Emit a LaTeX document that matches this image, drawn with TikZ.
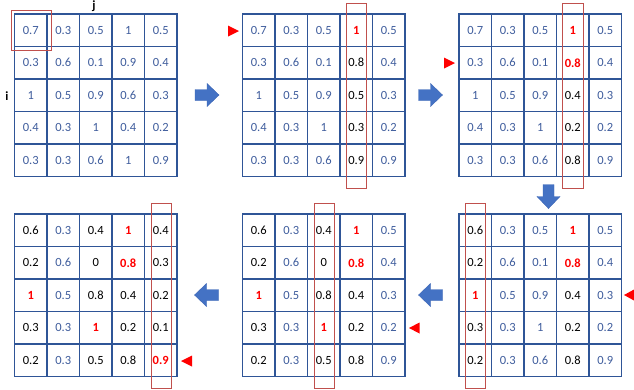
\documentclass[tikz,border=0pt]{standalone}
\usepackage{fontspec}
\setmainfont{Carlito}
\definecolor{gridblue}{HTML}{2F5597}
\definecolor{numblue}{HTML}{3E5C9C}
\definecolor{arrowblue}{HTML}{4472C4}
\definecolor{arrowedge}{HTML}{3A64B4}
\definecolor{boxred}{HTML}{C0504D}
\tikzset{
  cell/.style={draw=gridblue, line width=1.2pt, minimum size=32.5pt, inner sep=0pt, font=\fontsize{12.5}{14}\selectfont},
  cellb/.style={text=numblue},
  cellk/.style={text=black},
  cellr/.style={text=red, font=\fontsize{12.5}{14}\selectfont\bfseries},
  redbox/.style={draw=boxred, line width=0.8pt},
  pointer/.style={fill=red},
  blockarrow/.pic={\filldraw[fill=arrowblue, draw=arrowedge, line width=0.4pt]
     (-12,-5.5) -- (0,-5.5) -- (0,-11.5) -- (12,0) -- (0,11.5) -- (0,5.5) -- (-12,5.5) -- cycle;}
}
\newcommand\mkgrid[4]{%
  \foreach \row [count=\r from 0] in {#4} {%
    \foreach \s/\v [count=\c from 0] in \row {%
      \node[cell, cell\s] (#1-\r-\c) at ({#2+\c*32.5+16.25}, {#3+\r*32.5+16.25}) {\v};
    }%
  }%
}
\begin{document}
\begin{tikzpicture}[x=1pt,y=-1pt]
\useasboundingbox (0,0) rectangle (634,389);
% grid 1
\mkgrid{ga}{14.5}{14}{{b/0.7,b/0.3,b/0.5,b/1,b/0.5},{b/0.3,b/0.6,b/0.1,b/0.9,b/0.4},{b/1,b/0.5,b/0.9,b/0.6,b/0.3},{b/0.4,b/0.3,b/1,b/0.4,b/0.2},{b/0.3,b/0.3,b/0.6,b/1,b/0.9}}
% grid 2
\mkgrid{gb}{242.5}{14}{{b/0.7,b/0.3,b/0.5,r/1,b/0.5},{b/0.3,b/0.6,b/0.1,k/0.8,b/0.4},{b/1,b/0.5,b/0.9,k/0.5,b/0.3},{b/0.4,b/0.3,b/1,k/0.3,b/0.2},{b/0.3,b/0.3,b/0.6,k/0.9,b/0.9}}
% grid 3
\mkgrid{gc}{459}{14}{{b/0.7,b/0.3,b/0.5,r/1,b/0.5},{b/0.3,b/0.6,b/0.1,r/0.8,b/0.4},{b/1,b/0.5,b/0.9,k/0.4,b/0.3},{b/0.4,b/0.3,b/1,k/0.2,b/0.2},{b/0.3,b/0.3,b/0.6,k/0.8,b/0.9}}
% grid 6 (bottom right)
\mkgrid{gf}{459}{214}{{k/0.6,b/0.3,b/0.5,r/1,b/0.5},{k/0.2,b/0.6,b/0.1,r/0.8,b/0.4},{r/1,b/0.5,b/0.9,k/0.4,b/0.3},{k/0.3,b/0.3,b/1,k/0.2,b/0.2},{k/0.2,b/0.3,b/0.6,k/0.8,b/0.9}}
% grid 5 (bottom middle)
\mkgrid{ge}{242.5}{214}{{k/0.6,b/0.3,k/0.4,r/1,b/0.5},{k/0.2,b/0.6,k/0,r/0.8,b/0.4},{r/1,b/0.5,k/0.8,k/0.4,b/0.3},{k/0.3,b/0.3,r/1,k/0.2,b/0.2},{k/0.2,b/0.3,k/0.5,k/0.8,b/0.9}}
% grid 4 (bottom left)
\mkgrid{gd}{14.5}{214}{{k/0.6,b/0.3,k/0.4,r/1,k/0.4},{k/0.2,b/0.6,k/0,r/0.8,k/0.3},{r/1,b/0.5,k/0.8,k/0.4,k/0.2},{k/0.3,b/0.3,r/1,k/0.2,k/0.1},{k/0.2,b/0.3,k/0.5,k/0.8,r/0.9}}
% labels
\node[font=\fontsize{12.5}{14}\selectfont\bfseries] (jlab) at (94,6) {j};
\node[font=\fontsize{12.5}{14}\selectfont\bfseries] (ilab) at (7,96) {i};
% red boxes
\draw[redbox] (11.7,10) rectangle (51.7,50.7);
\draw[redbox] (346.7,3) rectangle (366.7,188);
\draw[redbox] (562.7,3) rectangle (583,188);
\draw[redbox] (151,203) rectangle (171,388);
\draw[redbox] (314.3,203) rectangle (334.3,388);
\draw[redbox] (465.7,203) rectangle (485.7,388);
% red pointers
\fill[pointer] (228,25.5) -- (239,31) -- (228,36.5) -- cycle;
\fill[pointer] (444,57.5) -- (455,63) -- (444,68.5) -- cycle;
\fill[pointer] (634,289.5) -- (624,295) -- (634,300.5) -- cycle;
\fill[pointer] (419.5,322.5) -- (409,328) -- (419.5,333.5) -- cycle;
\fill[pointer] (192,355.5) -- (181,361) -- (192,366.5) -- cycle;
% block arrows
\pic at (207,95) {blockarrow};
\pic at (430.5,95) {blockarrow};
\pic[rotate=-90] at (548.5,196.5) {blockarrow};
\pic[rotate=180] at (430.5,295) {blockarrow};
\pic[rotate=180] at (206.5,295) {blockarrow};
\end{tikzpicture}
\end{document}
